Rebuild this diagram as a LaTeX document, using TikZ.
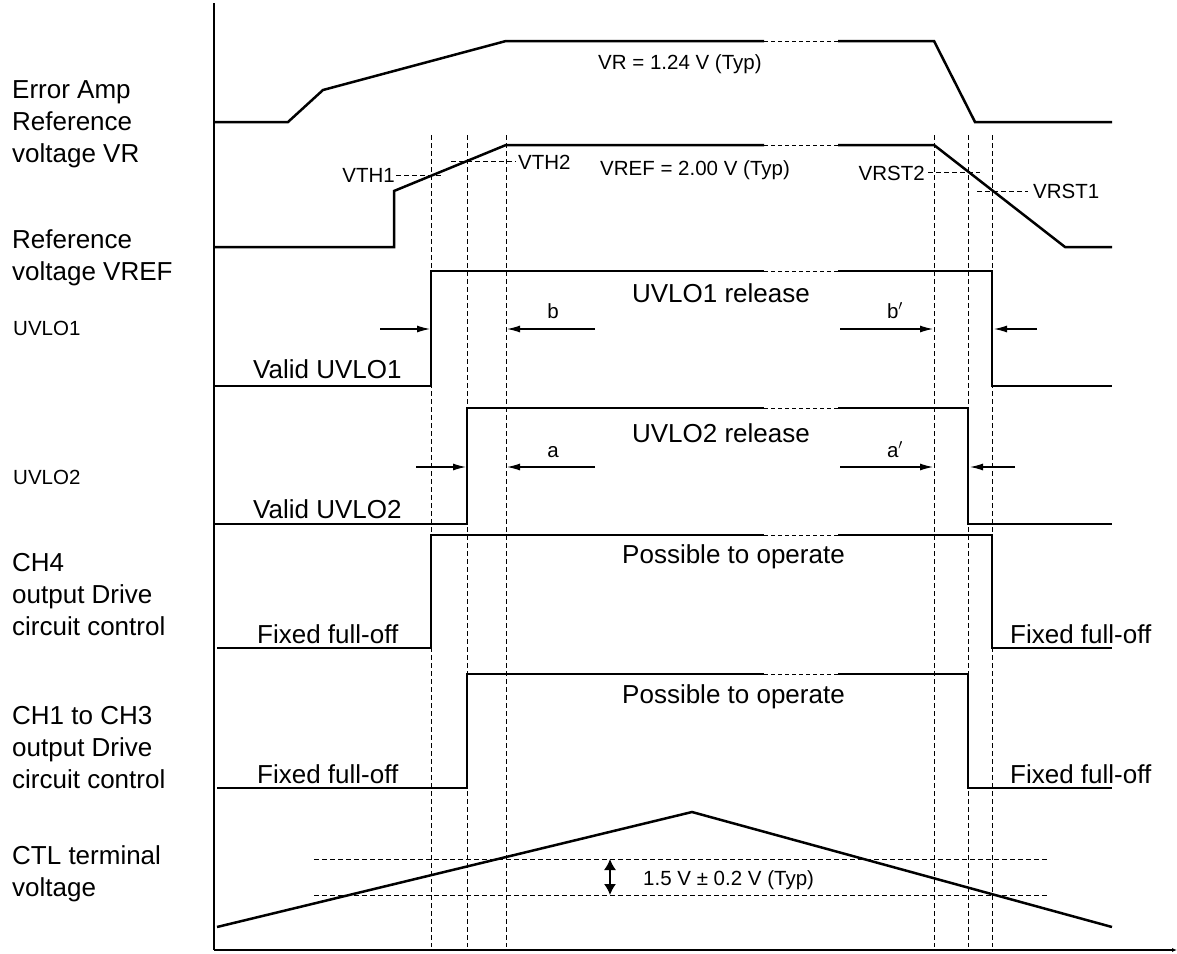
\documentclass[tikz,border=0pt]{standalone}
\usepackage{fontspec}
\setmainfont{Liberation Sans}
\usetikzlibrary{arrows.meta}
\begin{document}
\begin{tikzpicture}[x=1pt,y=-1pt,
  trace/.style={line width=2.5pt, line join=miter, line cap=butt},
  gap/.style={line width=0.9pt, dash pattern=on 4pt off 3pt},
  guide/.style={line width=0.9pt, dash pattern=on 4.5pt off 3.5pt},
  axis/.style={line width=1.1pt},
  dim/.style={line width=1.1pt, -{Latex[length=13pt,width=7pt]}},
  big/.style={font=\fontsize{26}{32}\selectfont, inner sep=0pt},
  small/.style={font=\fontsize{20.5}{24}\selectfont, inner sep=0pt}
]
\useasboundingbox (0,0) rectangle (1177,953);

% axes
\coordinate (axtop) at (214,3);
\coordinate (axorg) at (214,950);
\coordinate (axend) at (1177,950);
\draw[axis] (axtop) -- (axorg);
\draw[axis,-{Latex[length=5pt,width=4pt]}] (axorg) -- (axend);

% vertical guide lines
\foreach \gx in {431,467,506,934,968,992}
  \draw[guide] (\gx,135) -- (\gx,947);

% Error amp reference VR
\draw[trace] (214,122) -- (288,122) -- (323,90) -- (506,41) -- (764,41);
\draw[gap] (764,41) -- (838,41);
\draw[trace] (838,41) -- (934,41) -- (975,122) -- (1112,122);

% VREF
\draw[trace] (214,247) -- (394,247) -- (394,191) -- (506,145) -- (764,145);
\draw[gap] (764,145) -- (838,145);
\draw[trace] (838,145) -- (934,145) -- (1065,247) -- (1112,247);
\draw[guide] (396,175) -- (443,175);
\draw[guide] (451,161) -- (516,161);
\draw[guide] (928,172) -- (980,172);
\draw[guide] (977,191) -- (1028,191);

% UVLO1
\draw[trace] (214,386) -- (431,386) -- (431,271) -- (764,271);
\draw[gap] (764,271) -- (838,271);
\draw[trace] (838,271) -- (992,271) -- (992,386) -- (1112,386);

% UVLO2
\draw[trace] (214,524) -- (467,524) -- (467,408) -- (764,408);
\draw[gap] (764,408) -- (838,408);
\draw[trace] (838,408) -- (968,408) -- (968,524) -- (1112,524);

% CH4
\draw[trace] (217,648) -- (431,648) -- (431,535) -- (764,535);
\draw[gap] (764,535) -- (838,535);
\draw[trace] (838,535) -- (992,535) -- (992,648) -- (1112,648);

% CH1 to CH3
\draw[trace] (217,788) -- (467,788) -- (467,674) -- (764,674);
\draw[gap] (764,674) -- (838,674);
\draw[trace] (838,674) -- (968,674) -- (968,788) -- (1112,788);

% CTL
\draw[trace] (217,927) -- (692,812) -- (1112,927);
\draw[guide] (314,859) -- (1047,859);
\draw[guide] (314,895) -- (1047,895);
\coordinate (dA) at (610,859);
\coordinate (dB) at (610,895);
\draw[line width=1.5pt, {Latex[length=11pt,width=12pt]}-{Latex[length=11pt,width=12pt]}] (dA) -- (dB);

% dimension arrows
\draw[dim] (380,329) -- (430,329);
\draw[dim] (595,329) -- (507,329);
\draw[dim] (840,329) -- (933,329);
\draw[dim] (1037,329) -- (994,329);
\draw[dim] (416,467) -- (466,467);
\draw[dim] (595,467) -- (507,467);
\draw[dim] (840,467) -- (933,467);
\draw[dim] (1015,467) -- (970,467);

% left labels
\node[big, anchor=base west] (l1) at (12,98) {Error Amp};
\node[big, anchor=base west] (l2) at (12,130) {Reference};
\node[big, anchor=base west] (l3) at (12,162) {voltage VR};
\node[big, anchor=base west] (l4) at (12,248) {Reference};
\node[big, anchor=base west] (l5) at (12,280) {voltage VREF};
\node[small, anchor=base west] (l6) at (13,335) {UVLO1};
\node[small, anchor=base west] (l7) at (13,484) {UVLO2};
\node[big, anchor=base west] (l8) at (12,571) {CH4};
\node[big, anchor=base west] (l9) at (12,603) {output Drive};
\node[big, anchor=base west] (l10) at (12,635) {circuit control};
\node[big, anchor=base west] (l11) at (12,724) {CH1 to CH3};
\node[big, anchor=base west] (l12) at (12,756) {output Drive};
\node[big, anchor=base west] (l13) at (12,788) {circuit control};
\node[big, anchor=base west] (l14) at (12,864) {CTL terminal};
\node[big, anchor=base west] (l15) at (12,896) {voltage};

% small labels
\node[small, anchor=base west] (vr) at (598,69) {VR = 1.24 V (Typ)};
\node[small, anchor=base west] (vref) at (600,175) {VREF = 2.00 V (Typ)};
\node[small, anchor=base east] (vth1) at (395,182) {VTH1};
\node[small, anchor=base west] (vth2) at (518,169) {VTH2};
\node[small, anchor=base east] (vrst2) at (925,180) {VRST2};
\node[small, anchor=base west] (vrst1) at (1033,198) {VRST1};
\node[small, anchor=base] (lb) at (553,318) {b};
\node[small, anchor=base] (lbp) at (895,318) {b$'$};
\node[small, anchor=base] (la) at (553,457) {a};
\node[small, anchor=base] (lap) at (895,457) {a$'$};
\node[small, anchor=base west] (tol) at (643,885) {1.5 V ± 0.2 V (Typ)};

% big labels
\node[big, anchor=base] (u1r) at (721,302) {UVLO1 release};
\node[big, anchor=base] (u2r) at (721,442) {UVLO2 release};
\node[big, anchor=base west] (u1v) at (253,378) {Valid UVLO1};
\node[big, anchor=base west] (u2v) at (253,518) {Valid UVLO2};
\node[big, anchor=base west] (p4) at (622,563) {Possible to operate};
\node[big, anchor=base west] (p13) at (622,703) {Possible to operate};
\node[big, anchor=base west] (f4l) at (257,643) {Fixed full-off};
\node[big, anchor=base west] (f4r) at (1010,643) {Fixed full-off};
\node[big, anchor=base west] (f13l) at (257,783) {Fixed full-off};
\node[big, anchor=base west] (f13r) at (1010,783) {Fixed full-off};
\end{tikzpicture}
\end{document}
